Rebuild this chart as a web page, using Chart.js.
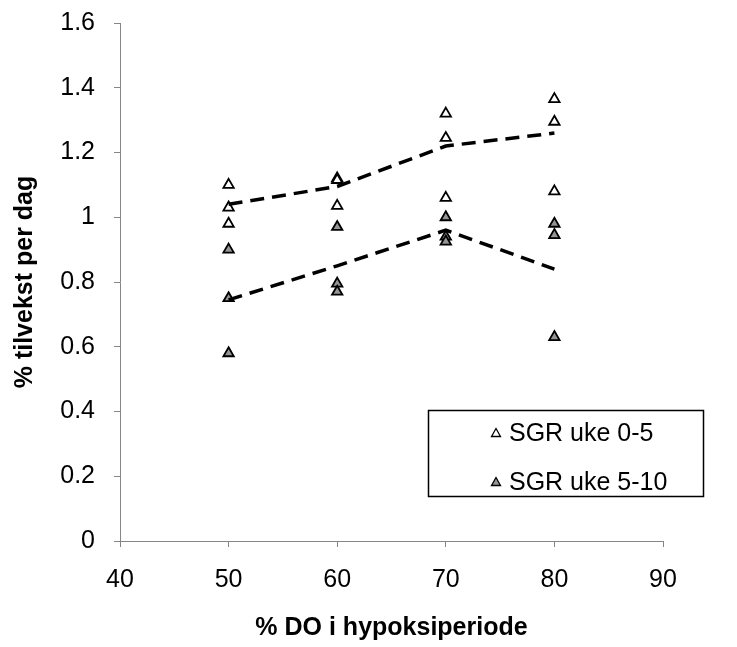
<!DOCTYPE html>
<html><head><meta charset="utf-8">
<script src="https://cdn.jsdelivr.net/npm/chart.js@4"></script>
<style>html,body{margin:0;padding:0;background:#fff}#wrap{width:737px;height:647px;position:relative}</style>
</head><body><div id="wrap"><canvas id="c" width="737" height="647"></canvas></div>
<script>
// Data
const xTickValues = [40, 50, 60, 70, 80, 90];
const sgr05X = [50, 50, 50, 60, 60, 60, 70, 70, 70, 80, 80, 80];
const sgr05Y = [1.10, 1.03, 0.98, 1.12, 1.115, 1.035, 1.32, 1.245, 1.06, 1.365, 1.295, 1.08];
const sgr510X = [50, 50, 50, 60, 60, 60, 70, 70, 70, 80, 80, 80];
const sgr510Y = [0.90, 0.75, 0.58, 0.97, 0.795, 0.77, 1.00, 0.94, 0.925, 0.98, 0.945, 0.63];
const trendX = [50, 60, 70, 80];
const trend05Y = [1.04, 1.095, 1.22, 1.26];
const trend510Y = [0.745, 0.85, 0.96, 0.84];
const seriesLabels = ["SGR uke 0-5", "SGR uke 5-10"];

const pts = (xs, ys) => xs.map((x, i) => ({x: x, y: ys[i]}));
const FONT = "'Liberation Sans', Arial, sans-serif";
const fills = ['#ffffff', '#959595'];

const legendPlugin = {
  id: 'boxLegend',
  afterDraw(chart) {
    const ctx = chart.ctx;
    ctx.save();
    ctx.strokeStyle = '#000';
    ctx.lineWidth = 1.5;
    ctx.strokeRect(428.5, 410.5, 275, 86);
    ctx.font = '25px ' + FONT;
    ctx.textBaseline = 'middle';
    const rows = [433, 482];
    rows.forEach((yy, i) => {
      ctx.fillStyle = fills[i];
      ctx.strokeStyle = '#000';
      ctx.lineWidth = 1.3;
      ctx.beginPath();
      ctx.moveTo(496, yy - 4.5);
      ctx.lineTo(500.5, yy + 3.5);
      ctx.lineTo(491.5, yy + 3.5);
      ctx.closePath();
      ctx.fill();
      ctx.stroke();
      ctx.fillStyle = '#000';
      ctx.fillText(seriesLabels[i], 509, yy + 1);
    });
    ctx.restore();
  }
};

new Chart(document.getElementById('c'), {
  type: 'scatter',
  data: {
    datasets: [
      {label: 'trend1', type: 'line', data: pts(trendX, trend05Y), borderColor: '#000', borderWidth: 3.5, borderDash: [14, 8], pointRadius: 0, fill: false, order: 0},
      {label: 'trend2', type: 'line', data: pts(trendX, trend510Y), borderColor: '#000', borderWidth: 3.5, borderDash: [14, 8], pointRadius: 0, fill: false, order: 0},
      {label: seriesLabels[0], data: pts(sgr05X, sgr05Y), pointStyle: 'triangle', pointRadius: 6, pointBackgroundColor: fills[0], pointBorderColor: '#000', pointBorderWidth: 1.8, order: 1},
      {label: seriesLabels[1], data: pts(sgr510X, sgr510Y), pointStyle: 'triangle', pointRadius: 6, pointBackgroundColor: fills[1], pointBorderColor: '#000', pointBorderWidth: 1.8, order: 1}
    ]
  },
  options: {
    responsive: false,
    animation: false,
    layout: {padding: {left: 0, right: 74, top: 23, bottom: 0}},
    plugins: {legend: {display: false}, tooltip: {enabled: false}},
    scales: {
      x: {
        type: 'linear', min: 40, max: 90,
        afterBuildTicks: s => { s.ticks = xTickValues.map(v => ({value: v})); },
        afterFit: s => { s.height = 106; s.paddingLeft = 0; s.paddingRight = 0; },
        grid: {drawOnChartArea: false, drawTicks: true, tickLength: 6, color: '#868686'},
        border: {color: '#868686', width: 1},
        ticks: {color: '#000', font: {family: FONT, size: 25}, padding: 18},
        title: {display: true, text: '% DO i hypoksiperiode', color: '#000', font: {family: FONT, size: 25, weight: 'bold'}, padding: {top: 12}}
      },
      y: {
        min: 0, max: 1.6,
        ticks: {stepSize: 0.2, color: '#000', font: {family: FONT, size: 25}, padding: 19,
          callback: v => Math.round(v * 10) / 10 + ''},
        afterFit: s => { s.width = 120; s.paddingTop = 0; s.paddingBottom = 0; },
        grid: {drawOnChartArea: false, drawTicks: true, tickLength: 6, color: '#868686'},
        border: {color: '#868686', width: 1},
        title: {display: true, text: '% tilvekst per dag', color: '#000', font: {family: FONT, size: 25, weight: 'bold'}, padding: {top: 10, bottom: 0}}
      }
    }
  },
  plugins: [legendPlugin]
});
</script></body></html>
